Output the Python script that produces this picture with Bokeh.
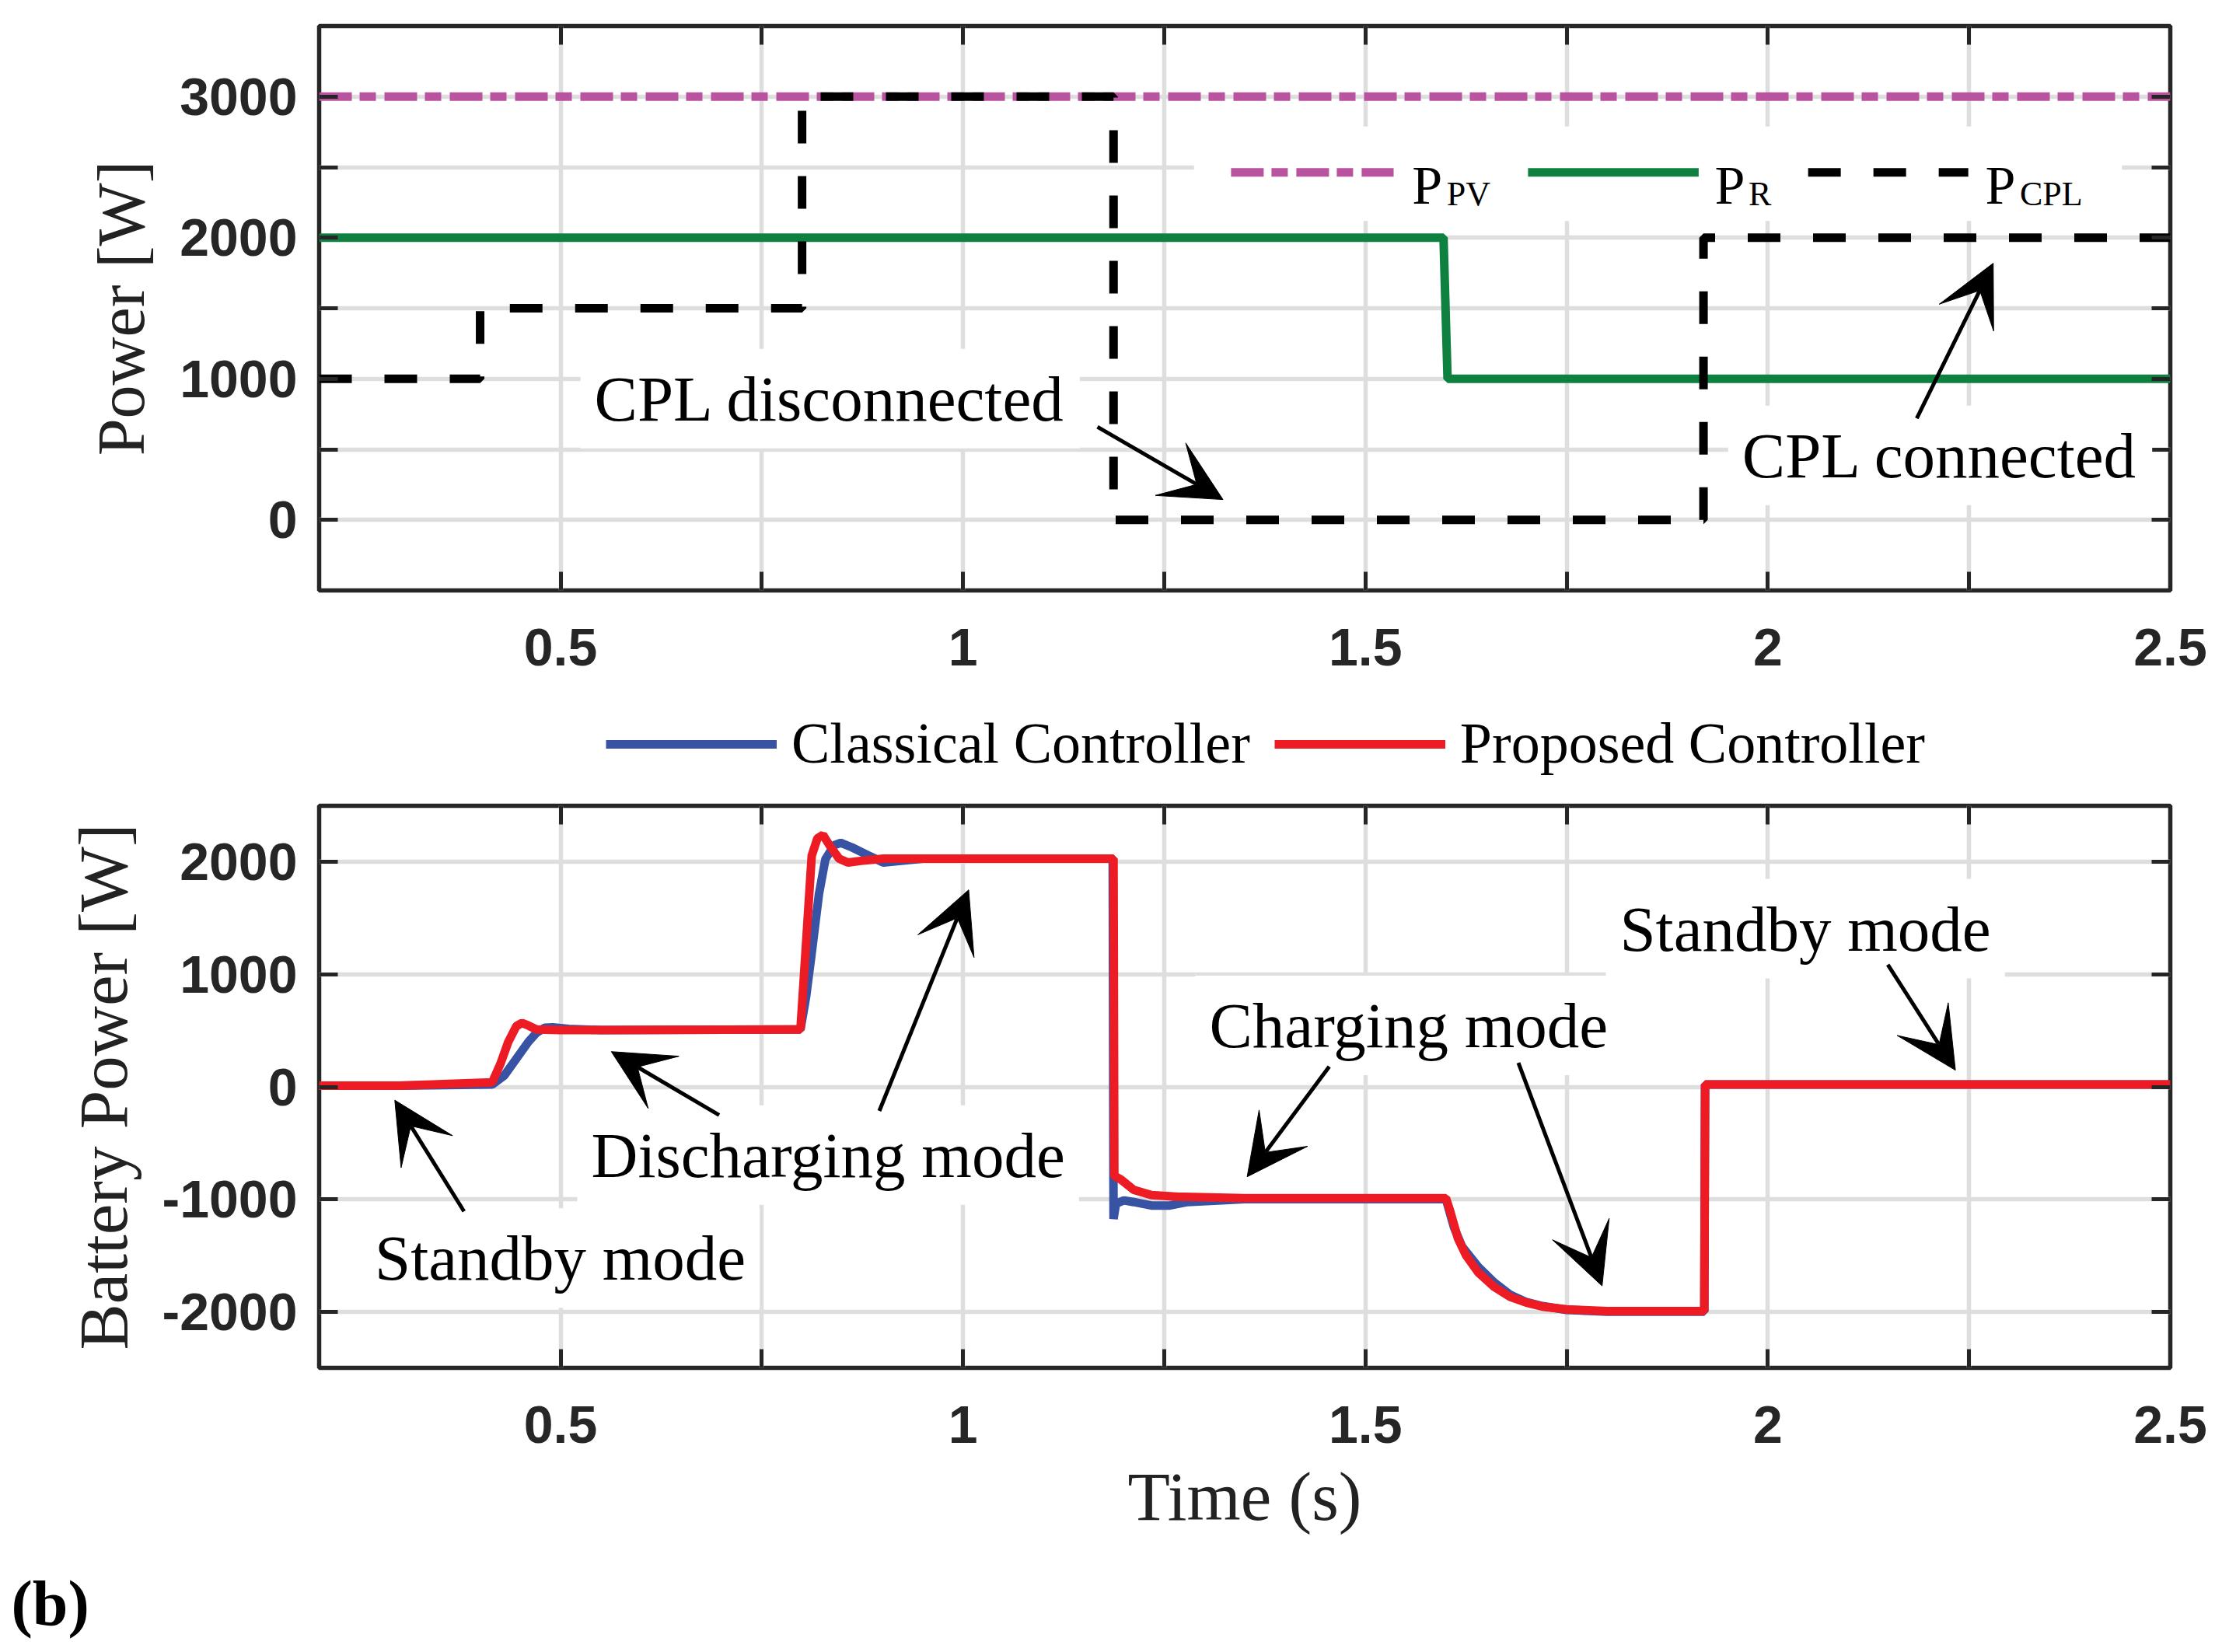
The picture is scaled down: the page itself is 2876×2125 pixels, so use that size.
from bokeh.plotting import figure
from bokeh.models import (FixedTicker, LinearAxis, Range1d, Label, Arrow, VeeHead, Title,
                          BoxAnnotation, Legend, LegendItem, CustomJSTickFormatter)
from bokeh.layouts import column
from bokeh.embed import file_html
from bokeh.resources import INLINE

# ---------------- data ----------------
# top panel
t_pv = [0.2, 2.5]
p_pv = [3000, 3000]
t_r = [0.2, 1.597, 1.602, 2.5]
p_r = [2000, 2000, 1000, 1000]
t_cpl = [0.2, 0.4, 0.4, 0.8, 0.8, 1.187, 1.187, 1.92, 1.92, 2.5]
p_cpl = [1000, 1000, 1500, 1500, 3000, 3000, 0, 0, 2000, 2000]

# bottom panel: battery power
t_cls = [0.2, 0.30, 0.415, 0.43, 0.445, 0.46, 0.47, 0.48, 0.49, 0.51, 0.55, 0.798,
         0.805, 0.812, 0.821, 0.829, 0.840, 0.848, 0.862, 0.879, 0.901, 0.923, 0.95,
         1.186, 1.187, 1.190, 1.20, 1.212, 1.234, 1.257, 1.279, 1.35, 1.60, 1.61,
         1.62, 1.64, 1.66, 1.68, 1.70, 1.72, 1.75, 1.80, 1.921, 1.922, 2.5]
p_cls = [10, 10, 20, 100, 250, 400, 480, 525, 530, 515, 505, 510,
         800, 1190, 1715, 2025, 2150, 2170, 2130, 2070, 1995, 2010, 2030,
         2030, -1175, -1040, -1010, -1025, -1056, -1056, -1025, -1000, -1000, -1250,
         -1420, -1600, -1740, -1850, -1915, -1950, -1985, -2000, -2000, 20, 20]
t_prp = [0.2, 0.30, 0.415, 0.425, 0.435, 0.445, 0.452, 0.46, 0.47, 0.50, 0.798,
         0.807, 0.812, 0.819, 0.826, 0.834, 0.846, 0.857, 0.873, 0.901, 1.187,
         1.188, 1.196, 1.212, 1.234, 1.268, 1.35, 1.60, 1.605, 1.615, 1.625, 1.64,
         1.66, 1.68, 1.70, 1.72, 1.75, 1.80, 1.921, 1.922, 2.5]
p_prp = [10, 10, 40, 200, 400, 540, 568, 545, 510, 505, 510,
         1500, 2056, 2210, 2241, 2150, 2030, 1995, 2010, 2030, 2030,
         -793, -824, -916, -963, -978, -990, -990, -1100, -1350, -1500, -1650,
         -1780, -1870, -1920, -1955, -1980, -1995, -1995, 20, 20]

x_major = [0.5, 1.0, 1.5, 2.0, 2.5]
x_minor = [0.75, 1.25, 1.75, 2.25]
y1_major = [0, 1000, 2000, 3000]
y1_minor = [500, 1500, 2500]
y2_major = [-2000, -1000, 0, 1000, 2000]

# ---------------- styles ----------------
FRAME = "#262626"
GRID = "#dedede"
C_PV = "#B9529F"
C_R = "#0E8040"
C_CPL = "#000000"
C_CLS = "#3953A4"
C_PRP = "#ED1C24"
SERIF = "Liberation Serif"
SANS = "Liberation Sans"
LW = 11
W = 2860
BL, BR = 410, 69
XPX = 2.3 / 2381.0  # data units per screen px (x)

fmt = CustomJSTickFormatter(code="return tick.toString();")


def style_axis(ax, labels=True):
    ax.axis_line_color = None
    ax.major_tick_in = 24
    ax.major_tick_out = 0
    ax.minor_tick_in = 24
    ax.minor_tick_out = 0
    ax.major_tick_line_color = FRAME
    ax.major_tick_line_width = 5
    ax.minor_tick_line_color = FRAME
    ax.minor_tick_line_width = 5
    if labels:
        ax.formatter = fmt
        ax.major_label_text_font = SANS
        ax.major_label_text_font_style = "bold"
        ax.major_label_text_font_size = "68px"
        ax.major_label_text_color = FRAME
    else:
        ax.formatter = CustomJSTickFormatter(code="return '';")
        ax.major_label_text_font_size = "8px"
        ax.major_label_standoff = 0


def make_fig(height, ymin, ymax, ymaj, ymin_ticks, top, bottom):
    p = figure(width=W, height=height, x_range=Range1d(0.2, 2.5),
               y_range=Range1d(ymin, ymax), output_backend="svg",
               toolbar_location=None, min_border_left=BL, min_border_right=BR,
               min_border_top=top, min_border_bottom=bottom)
    p.background_fill_color = "white"
    p.border_fill_color = "white"
    p.outline_line_color = FRAME
    p.outline_line_width = 5.5
    ax_b = p.below[0]
    ax_l = p.left[0]
    ax_b.ticker = FixedTicker(ticks=x_major, minor_ticks=x_minor)
    ax_l.ticker = FixedTicker(ticks=ymaj, minor_ticks=ymin_ticks)
    style_axis(ax_b)
    style_axis(ax_l)
    ax_b.major_label_standoff = 49
    ax_l.major_label_standoff = 28
    ax_l.axis_label_text_font = SERIF
    ax_l.axis_label_text_font_style = "normal"
    ax_l.axis_label_text_color = "#222222"
    ax_l.axis_label_standoff = 24
    ax_top = LinearAxis(ticker=FixedTicker(ticks=x_major, minor_ticks=x_minor))
    style_axis(ax_top, labels=False)
    p.add_layout(ax_top, "above")
    ax_right = LinearAxis(ticker=FixedTicker(ticks=ymaj, minor_ticks=ymin_ticks))
    style_axis(ax_right, labels=False)
    p.add_layout(ax_right, "right")
    for g in (p.xgrid, p.ygrid):
        g.grid_line_color = GRID
        g.grid_line_width = 5.5
        g.minor_grid_line_color = GRID
        g.minor_grid_line_width = 5.5
    return p, ax_b, ax_l


def strip(height, top=0, bottom=0):
    s = figure(width=W, height=height, x_range=Range1d(0, 1), y_range=Range1d(0, 1),
               output_backend="svg", toolbar_location=None, x_axis_type=None,
               y_axis_type=None, min_border_left=BL, min_border_right=BR,
               min_border_top=top, min_border_bottom=bottom)
    s.grid.visible = False
    s.outline_line_color = None
    s.background_fill_color = "white"
    s.border_fill_color = "white"
    return s


def mk_label(**kw):
    try:
        return Label(**kw)
    except (AttributeError, ValueError):
        kw.pop("padding", None)
        return Label(**kw)


def note(p, x, y, text, ypx, size="83px"):
    # position given as left of text / baseline; compensate the padding offset
    p.add_layout(mk_label(x=x - 19 * XPX, y=y + 29 * ypx, text=text, text_font=SERIF,
                          text_font_size=size, text_color="black", text_align="left",
                          text_baseline="alphabetic",
                          background_fill_color="white", background_fill_alpha=1.0,
                          padding=18))


def arrow(p, xs, ys, xe, ye):
    p.add_layout(Arrow(x_start=xs, y_start=ys, x_end=xe, y_end=ye,
                       line_color="black", line_width=5,
                       end=VeeHead(size=78, fill_color="black", line_color="black",
                                   line_width=1)))


# ---------------- top panel ----------------
p1, p1_xb, p1_yl = make_fig(890, -500, 3500, y1_major, y1_minor, 33, 131)
p1_yl.axis_label = "Power [W]"
p1_yl.axis_label_text_font_size = "86px"
Y1PX = 4000 / 726.0

p1.line(t_pv, p_pv, line_color=C_PV, line_width=LW, line_dash="42 10 21 11")
p1.line(t_r, p_r, line_color=C_R, line_width=LW)
p1.line(t_cpl, p_cpl, line_color=C_CPL, line_width=LW, line_dash="42 42")

# legend (manual, with subscripts)
p1.add_layout(BoxAnnotation(left=1.287, right=2.44, bottom=2119, top=2788,
                            fill_color="white", fill_alpha=1.0, line_color=None))
leg_y = 2463
for xs, xe, col, dash in [(1.333, 1.535, C_PV, "42 10 21 11"),
                          (1.702, 1.914, C_R, "solid"),
                          (2.050, 2.249, C_CPL, "42 42")]:
    p1.add_layout(Arrow(x_start=xs, y_start=leg_y, x_end=xe, y_end=leg_y, end=None,
                        line_color=col, line_width=LW, line_dash=dash))
for xp, xs, sub in [(1.558, 1.601, "PV"), (1.934, 1.976, "R"), (2.270, 2.313, "CPL")]:
    p1.add_layout(Label(x=xp, y=2373, text="P", text_font=SERIF, text_font_size="70px",
                        text_color="black", text_baseline="alphabetic"))
    p1.add_layout(Label(x=xs, y=2311, text=sub, text_font=SERIF, text_font_size="44px",
                        text_color="black", text_baseline="alphabetic"))

note(p1, 0.543, 700, "CPL disconnected", Y1PX)
arrow(p1, 1.167, 659, 1.323, 144)
note(p1, 1.969, 297, "CPL connected", Y1PX)
arrow(p1, 2.185, 720, 2.280, 1819)

# ---------------- legend strip for the lower panel ----------------
# legend swatches: one-point copies of the series (nothing visible is drawn for them)
pl = strip(130)
g_cls = pl.line(x=t_cls[:1], y=p_cls[:1], line_color=C_CLS, line_width=11)
g_prp = pl.line(x=t_prp[:1], y=p_prp[:1], line_color=C_PRP, line_width=11)
legend = Legend(items=[LegendItem(label="Classical Controller", renderers=[g_cls]),
                       LegendItem(label="Proposed Controller", renderers=[g_prp])],
                orientation="horizontal", location=(369, 21),
                glyph_width=220, glyph_height=40, label_height=40,
                label_standoff=19, spacing=31, padding=0, margin=0,
                border_line_color=None, background_fill_alpha=0.0,
                label_text_font=SERIF, label_text_font_size="74px",
                label_text_color="black")
pl.add_layout(legend)

# ---------------- bottom panel ----------------
p2, p2_xb, p2_yl = make_fig(989, -2500, 2500, y2_major, [], 16, 250)
p2_yl.axis_label = "Battery Power [W]"
p2_yl.axis_label_text_font_size = "89px"
p2_xb.axis_label = "Time (s)"
p2_xb.axis_label_text_font = SERIF
p2_xb.axis_label_text_font_style = "normal"
p2_xb.axis_label_text_font_size = "89px"
p2_xb.axis_label_text_color = "#222222"
p2_xb.axis_label_standoff = 17
Y2PX = 5000 / 723.0

p2.line(t_cls, p_cls, line_color=C_CLS, line_width=11)
p2.line(t_prp, p_prp, line_color=C_PRP, line_width=11)

note(p2, 0.270, -1724, "Standby mode", Y2PX)
arrow(p2, 0.380, -1108, 0.294, -119)
note(p2, 0.539, -808, "Discharging mode", Y2PX)
arrow(p2, 0.697, -251, 0.563, 313)
arrow(p2, 0.896, -214, 1.007, 1752)
note(p2, 1.307, 346, "Charging mode", Y2PX)
arrow(p2, 1.455, 179, 1.353, -800)
arrow(p2, 1.690, 214, 1.794, -1771)
note(p2, 1.817, 1206, "Standby mode", Y2PX)
arrow(p2, 2.149, 1087, 2.233, 148)

# ---------------- panel tag strip ----------------
pt = strip(107, top=98, bottom=0)
pt.add_layout(Title(text="(b)", align="left", offset=-396, text_font=SERIF,
                    text_font_size="82px", text_font_style="bold",
                    text_color="black", standoff=0), "above")

layout = column(p1, pl, p2, pt)
open("out.html", "w").write(file_html(layout, INLINE))
